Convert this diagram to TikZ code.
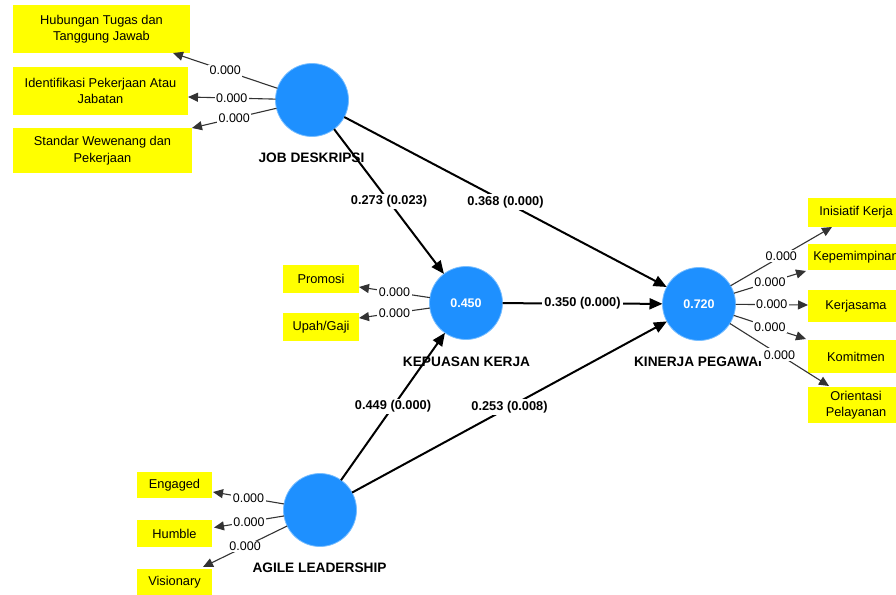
\documentclass[tikz,border=0pt]{standalone}
\usepackage{fontspec}
\setmainfont{Liberation Sans}
\usetikzlibrary{arrows.meta,calc}
\definecolor{plsblue}{RGB}{30,144,255}
\definecolor{plsedge}{RGB}{120,190,255}
\definecolor{plsyellow}{RGB}{255,255,0}
\begin{document}
\begin{tikzpicture}[x=1pt,y=-1pt,
  latent/.style={circle, fill=plsblue, draw=plsedge, line width=0.8pt, minimum size=73pt,
    inner sep=0pt, outer sep=0pt, text=white, font=\bfseries\fontsize{12.5}{14}\selectfont},
  ind/.style={rectangle, fill=plsyellow, inner sep=0pt, outer sep=0pt, align=center,
    font=\fontsize{12.8}{16.5}\selectfont},
  lvname/.style={inner sep=0pt, font=\bfseries\fontsize{13.7}{16}\selectfont},
  pathcoef/.style={draw=black, line width=2pt, -{Triangle[length=13pt,width=11pt]}},
  loading/.style={draw=black!80, line width=1.1pt, -{Triangle[length=10pt,width=9pt]}},
  coef/.style={fill=white, inner sep=2pt, font=\bfseries\fontsize{12.8}{14}\selectfont},
  lval/.style={fill=white, inner sep=1.5pt, font=\fontsize{12.5}{14}\selectfont},
]
\fill[white] (0,0) rectangle (896,594);
\clip (0,0) rectangle (896,594);

% latent variables
\node[latent] (jd) at (312,100) {};
\node[latent] (kk) at (466,303) {0.450};
\node[latent] (kp) at (699,304) {0.720};
\node[latent] (al) at (320,510) {};

\node[lvname] (jdn) at (311.5,158) {JOB DESKRIPSI};
\node[lvname] (kkn) at (466.5,362) {KEPUASAN KERJA};
\node[lvname] (kpn) at (698,362) {KINERJA PEGAWAI};
\node[lvname] (aln) at (319.5,568) {AGILE LEADERSHIP};

% indicators
\node[ind, minimum width=177pt, minimum height=48pt] (hub) at (101.5,29) {Hubungan Tugas dan\\Tanggung Jawab};
\node[ind, minimum width=175pt, minimum height=48pt] (idt) at (100.5,91) {Identifikasi Pekerjaan Atau\\Jabatan};
\node[ind, minimum width=179pt, minimum height=45pt] (std) at (102.5,150.5) {Standar Wewenang dan\\Pekerjaan};
\node[ind, minimum width=76pt, minimum height=28pt] (pro) at (321,279) {Promosi};
\node[ind, minimum width=76pt, minimum height=28pt] (upa) at (321,327) {Upah/Gaji};
\node[ind, minimum width=96pt, minimum height=29pt] (ini) at (856,212.5) {Inisiatif Kerja};
\node[ind, minimum width=96pt, minimum height=26pt] (kep) at (856,257) {Kepemimpinan};
\node[ind, minimum width=96pt, minimum height=32pt] (kjs) at (856,306) {Kerjasama};
\node[ind, minimum width=96pt, minimum height=33pt] (kom) at (856,356.5) {Komitmen};
\node[ind, minimum width=96pt, minimum height=36pt] (ori) at (856,405) {Orientasi\\Pelayanan};
\node[ind, minimum width=75pt, minimum height=26pt] (eng) at (174.5,485) {Engaged};
\node[ind, minimum width=75pt, minimum height=27pt] (hum) at (174.5,533.5) {Humble};
\node[ind, minimum width=75pt, minimum height=26pt] (vis) at (174.5,582) {Visionary};

% structural paths
\draw[pathcoef] (jd) -- node[coef] (c1) {0.273 (0.023)} (kk);
\draw[pathcoef] (jd) -- node[coef] (c2) {0.368 (0.000)} (kp);
\draw[pathcoef] (kk) -- node[coef] (c3) {0.350 (0.000)} (kp);
\draw[pathcoef] (al) -- node[coef] (c4) {0.449 (0.000)} (kk);
\draw[pathcoef] (al) -- node[coef] (c5) {0.253 (0.008)} (kp);

% loadings
\draw[loading] (jd) -- node[lval] (l1) {0.000} ($(hub.south east)+(-17,0)$);
\draw[loading] (jd) -- node[lval] (l2) {0.000} ($(idt.east)+(0,6)$);
\draw[loading] (jd) -- node[lval] (l3) {0.000} (std.north east);
\draw[loading] (kk) -- node[lval] (l4) {0.000} ($(pro.east)+(0,8)$);
\draw[loading] (kk) -- node[lval] (l5) {0.000} ($(upa.east)+(0,-9)$);
\draw[loading] (kp) -- node[lval] (l6) {0.000} ($(ini.south west)+(24,0)$);
\draw[loading] (kp) -- node[lval] (l7) {0.000} ($(kep.south west)+(-2,1)$);
\draw[loading] (kp) -- node[lval] (l8) {0.000} ($(kjs.west)+(0,-1)$);
\draw[loading] (kp) -- node[lval] (l9) {0.000} ($(kom.north west)+(-2,-1)$);
\draw[loading] (kp) -- node[lval, inner xsep=7pt, inner ysep=2pt] (l10) {0.000} ($(ori.north west)+(21,-1)$);
\draw[loading] (al) -- node[lval] (l11) {0.000} ($(eng.east)+(1,7)$);
\draw[loading] (al) -- node[lval] (l12) {0.000} ($(hum.east)+(2,-6)$);
\draw[loading] (al) -- node[lval] (l13) {0.000} ($(vis.north east)+(-9,-2)$);
\end{tikzpicture}
\end{document}
